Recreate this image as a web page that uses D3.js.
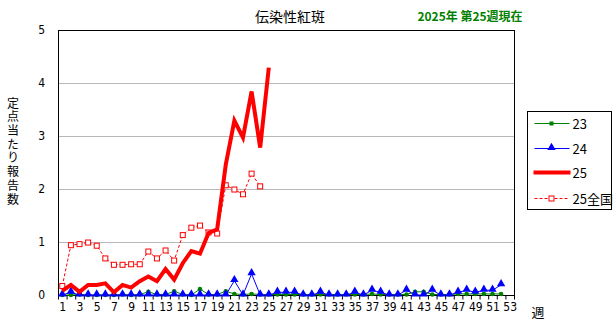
<!DOCTYPE html>
<html>
<head>
<meta charset="utf-8">
<script src="https://cdn.jsdelivr.net/npm/d3@7"></script>
<style>
  body { margin: 0; background: #fff; }
  text { font-family: "Liberation Sans Narrow", "DejaVu Sans Condensed", "Noto Sans CJK JP", sans-serif; }
  .jp { font-family: "Noto Sans CJK JP", sans-serif; }
</style>
</head>
<body>
<div id="chart"></div>
<script>
// Weekly values (per-sentinel reports)
var weeks = d3.range(1, 54);
var series23 = [0,0,0.01,0,0,0,0,0.01,0,0.01,
  0.06,0.01,0.01,0.07,0.01,0,0.11,0.01,0.01,0.07,
  0.02,0.01,0.02,0.01,0.01,0.01,0.01,0.01,0.01,0.01,
  0.01,0.01,0.01,0.01,0.01,0.01,0.02,0.01,0.01,0.01,
  0.01,0.06,0.06,0.01,0.01,0.01,0.02,0.02,0.02,0.02,
  0.02,0.02];
var series24 = [0,0.05,0,0,0,0,0,0,0,0,
  0,0,0,0,0,0,0,0,0,0,
  0.27,0,0.40,0,0,0.05,0.05,0.05,0,0,
  0.05,0,0,0,0.05,0,0.09,0.05,0,0,
  0.09,0,0,0.09,0,0,0.05,0.09,0.05,0.09,
  0.09,0.19];
var series25 = [0.08,0.19,0.06,0.19,0.19,0.22,0.05,0.19,0.14,0.26,
  0.35,0.26,0.49,0.29,0.6,0.83,0.78,1.17,1.24,2.46,
  3.29,2.97,3.84,2.78,4.29];
var series25all = [0.17,0.94,0.96,0.99,0.93,0.69,0.57,0.57,0.58,0.58,
  0.82,0.69,0.84,0.65,1.13,1.27,1.31,1.18,1.16,2.07,
  1.99,1.90,2.29,2.05];
var yTicks = [0, 1, 2, 3, 4, 5];
var legendLabels = ["23", "24", "25", "25全国"];

var width = 616, height = 326;
var margin = { top: 30, right: 102, bottom: 31, left: 58 };

var svg = d3.select("#chart")
  .append("svg")
  .attr("width", width)
  .attr("height", height);

svg.append("rect").attr("width", width).attr("height", height).attr("fill", "#fff");

// Scales
var x = d3.scaleLinear()
  .domain([0.5, 53.5])
  .range([margin.left, width - margin.right]);

var y = d3.scaleLinear()
  .domain([0, 5])
  .range([height - margin.bottom, margin.top]);

// Gridlines
svg.append("g")
  .selectAll("line")
  .data([1, 2, 3, 4])
  .enter()
  .append("line")
  .attr("x1", x.range()[0])
  .attr("x2", x.range()[1])
  .attr("y1", function(d) { return y(d) + 0.5; })
  .attr("y2", function(d) { return y(d) + 0.5; })
  .attr("stroke", "#b8b8b8")
  .attr("stroke-width", 1);

// Y axis labels
var yAxis = svg.append("g")
  .attr("transform", "translate(" + x.range()[0] + ",0)")
  .call(d3.axisLeft(y).tickValues(yTicks).tickSize(0).tickPadding(13).tickFormat(d3.format("d")));
yAxis.select(".domain").remove();
yAxis.selectAll("text").attr("font-size", 12).attr("fill", "#000")
  .attr("font-family", "\"Liberation Sans Narrow\", \"DejaVu Sans Condensed\", sans-serif");

// X axis: tick marks at week boundaries
var xTickAxis = svg.append("g")
  .attr("transform", "translate(0," + (y(0) + 0.5) + ")")
  .call(d3.axisBottom(x).tickValues(d3.range(0.5, 54, 1)).tickSize(4).tickFormat(""));
xTickAxis.select(".domain").remove();

// X axis labels on odd weeks
var xLabelAxis = svg.append("g")
  .attr("transform", "translate(0," + (y(0) + 0.5) + ")")
  .call(d3.axisBottom(x).tickValues(weeks.filter(function(w) { return w % 2 === 1; })).tickSize(0).tickPadding(7));
xLabelAxis.select(".domain").remove();
xLabelAxis.selectAll("text").attr("font-size", 12).attr("fill", "#000")
  .attr("font-family", "\"Liberation Sans Narrow\", \"DejaVu Sans Condensed\", sans-serif");

// Plot frame
svg.append("rect")
  .attr("x", x.range()[0] + 0.5)
  .attr("y", y(5) + 0.5)
  .attr("width", x.range()[1] - x.range()[0])
  .attr("height", y(0) - y(5))
  .attr("fill", "none")
  .attr("stroke", "#000");

var line = d3.line()
  .x(function(d, i) { return x(i + 1); })
  .y(function(d) { return y(d); });

// 23 series
svg.append("path")
  .datum(series23)
  .attr("d", line)
  .attr("fill", "none")
  .attr("stroke", "#008000")
  .attr("stroke-width", 1);
svg.append("g").selectAll("circle")
  .data(series23).enter().append("circle")
  .attr("cx", function(d, i) { return x(i + 1); })
  .attr("cy", function(d) { return y(d); })
  .attr("r", 2.3)
  .attr("fill", "#008000");

// 24 series
svg.append("path")
  .datum(series24)
  .attr("d", line)
  .attr("fill", "none")
  .attr("stroke", "#0000ff")
  .attr("stroke-width", 1);
var tri = d3.symbol().type(d3.symbolTriangle).size(30);
svg.append("g").selectAll("path")
  .data(series24).enter().append("path")
  .attr("d", tri)
  .attr("transform", function(d, i) { return "translate(" + x(i + 1) + "," + (y(d) - 1) + ")"; })
  .attr("fill", "#0000ff");

// 25 national series (dashed)
svg.append("path")
  .datum(series25all)
  .attr("d", line)
  .attr("fill", "none")
  .attr("stroke", "#ff0000")
  .attr("stroke-width", 1)
  .attr("stroke-dasharray", "3,2");
svg.append("g").selectAll("rect")
  .data(series25all).enter().append("rect")
  .attr("x", function(d, i) { return x(i + 1) - 2.5; })
  .attr("y", function(d) { return y(d) - 2.5; })
  .attr("width", 5)
  .attr("height", 5)
  .attr("fill", "#fff")
  .attr("stroke", "#ff0000")
  .attr("stroke-width", 1);

// 25 series (thick)
svg.append("path")
  .datum(series25)
  .attr("d", line)
  .attr("fill", "none")
  .attr("stroke", "#ff0000")
  .attr("stroke-width", 4)
  .attr("stroke-linejoin", "miter");

// Title
svg.append("text")
  .attr("class", "jp")
  .attr("x", 290)
  .attr("y", 22)
  .attr("text-anchor", "middle")
  .attr("font-size", 14)
  .text("伝染性紅斑");

svg.append("text")
  .attr("class", "jp")
  .attr("x", 470)
  .attr("y", 21)
  .attr("text-anchor", "middle")
  .attr("font-size", 12)
  .attr("font-weight", "bold")
  .attr("fill", "#008000")
  .text("2025年 第25週現在");

// Y axis title (vertical)
svg.append("text")
  .attr("class", "jp")
  .attr("x", 13)
  .attr("y", 97)
  .attr("font-size", 12)
  .attr("textLength", 108)
  .attr("lengthAdjust", "spacing")
  .style("writing-mode", "vertical-rl")
  .text("定点当たり報告数");

// X axis title
svg.append("text")
  .attr("class", "jp")
  .attr("x", 538)
  .attr("y", 317)
  .attr("text-anchor", "middle")
  .attr("font-size", 13)
  .text("週");

// Legend
var legend = svg.append("g").attr("transform", "translate(527.5,111.5)");
legend.append("rect")
  .attr("width", 84)
  .attr("height", 98)
  .attr("fill", "#fff")
  .attr("stroke", "#000");

var legendY = [12, 37, 61, 87];
var lx1 = 7, lx2 = 42, lm = 24;

// 23
legend.append("line").attr("x1", lx1).attr("x2", lx2).attr("y1", legendY[0]).attr("y2", legendY[0])
  .attr("stroke", "#008000");
legend.append("rect").attr("x", lm - 2).attr("y", legendY[0] - 2).attr("width", 4).attr("height", 4).attr("fill", "#008000");
// 24
legend.append("line").attr("x1", lx1).attr("x2", lx2).attr("y1", legendY[1]).attr("y2", legendY[1])
  .attr("stroke", "#0000ff");
legend.append("path").attr("d", tri).attr("transform", "translate(" + lm + "," + (legendY[1] - 1) + ")").attr("fill", "#0000ff");
// 25
legend.append("line").attr("x1", lx1 - 1).attr("x2", lx2 + 1).attr("y1", legendY[2]).attr("y2", legendY[2])
  .attr("stroke", "#ff0000").attr("stroke-width", 4);
// 25 national
legend.append("line").attr("x1", lx1).attr("x2", lx2).attr("y1", legendY[3]).attr("y2", legendY[3])
  .attr("stroke", "#ff0000").attr("stroke-dasharray", "3,2");
legend.append("rect").attr("x", lm - 2.5).attr("y", legendY[3] - 2.5).attr("width", 5).attr("height", 5)
  .attr("fill", "#fff").attr("stroke", "#ff0000");

legend.selectAll(".ltext")
  .data(legendLabels).enter().append("text")
  .attr("class", "jp")
  .attr("x", 45)
  .attr("y", function(d, i) { return legendY[i] + 5; })
  .attr("font-size", 13)
  .text(function(d) { return d; });
</script>
</body>
</html>
